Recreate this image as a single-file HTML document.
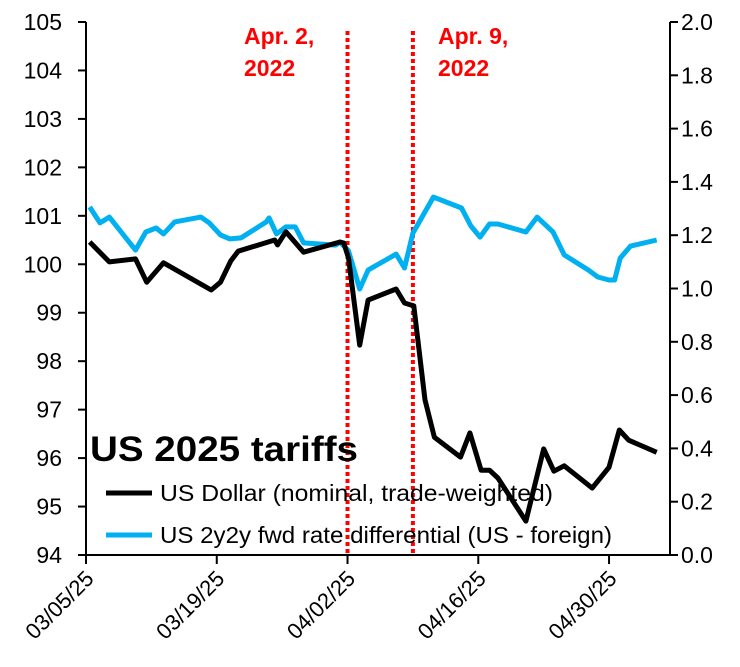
<!DOCTYPE html>
<html><head><meta charset="utf-8"><style>
body{margin:0;background:#fff}
svg{display:block;font-family:"Liberation Sans",Arial,sans-serif}
</style></head><body>
<svg id="chart" width="740" height="667" viewBox="0 0 740 667" xmlns="http://www.w3.org/2000/svg">
</svg>
<script>
const dateLabels=["03/05/25","03/19/25","04/02/25","04/16/25","04/30/25"];
const dateTickDays=[0,14,28,42,56];
const leftTicks=[94,95,96,97,98,99,100,101,102,103,104,105];
const rightTicks=[0.0,0.2,0.4,0.6,0.8,1.0,1.2,1.4,1.6,1.8,2.0];
const eventDays=[28,35];
const usdDays=[0.4,2.5,5.3,6.5,8.3,13.4,14.4,15.5,16.3,20.2,20.5,21.4,23.3,27.2,27.6,28.1,29.3,30.2,33.2,34.1,35.1,36.3,37.3,40.1,41.1,42.3,43.2,44.1,47.1,49.0,50.1,51.2,54.2,56.0,57.1,58.1,61.1];
const usdVals=[100.46,100.05,100.11,99.63,100.03,99.47,99.63,100.07,100.27,100.50,100.40,100.67,100.25,100.46,100.44,100.13,98.33,99.26,99.49,99.20,99.14,97.20,96.43,96.02,96.52,95.75,95.75,95.59,94.70,96.19,95.73,95.84,95.38,95.81,96.58,96.37,96.12];
const diffDays=[0.4,1.5,2.5,5.3,6.4,7.5,8.3,9.5,12.3,13.2,14.4,15.4,16.6,19.3,19.6,20.4,21.4,22.4,23.3,26.7,27.2,28.1,29.3,30.2,33.2,34.1,35.0,37.2,40.2,41.2,42.2,43.2,44.1,47.1,48.3,50.0,51.2,53.8,54.8,56.0,56.6,57.2,58.3,61.1];
const diffVals=[1.306,1.246,1.268,1.144,1.212,1.227,1.205,1.250,1.268,1.246,1.201,1.186,1.190,1.250,1.265,1.205,1.231,1.231,1.171,1.163,1.174,1.141,0.998,1.069,1.129,1.077,1.208,1.343,1.302,1.235,1.193,1.242,1.242,1.212,1.268,1.212,1.126,1.069,1.043,1.032,1.032,1.114,1.159,1.182];

const X0=86,X1=670,Y0=555,Y1=22;
const xS=d=>X0+d*9.34;
const yL=v=>Y0-(v-94)/11*(Y0-Y1);
const yR=v=>Y0-v/2*(Y0-Y1);
const svg=document.getElementById('chart');
const NS='http://www.w3.org/2000/svg';
function mk(tag,attrs,parent){const e=document.createElementNS(NS,tag);for(const k in attrs)e.setAttribute(k,attrs[k]);(parent||svg).appendChild(e);return e;}

let a=mk('line',{x1:X0,y1:Y1,x2:X0,y2:Y0+1,stroke:'#000','stroke-width':2});


a=mk('line',{x1:X1,y1:Y1,x2:X1,y2:Y0+1,stroke:'#000','stroke-width':2});


a=mk('line',{x1:X0-8,y1:Y0,x2:X1,y2:Y0,stroke:'#000','stroke-width':2});



leftTicks.forEach(v=>{
  const y=yL(v);
  mk('line',{x1:X0-8,y1:y,x2:X0,y2:y,stroke:'#000','stroke-width':2});
  const t=mk('text',{x:62,y:y+8,'text-anchor':'end','font-size':23,fill:'#000'});
  t.textContent=v;
  
  
});
rightTicks.forEach(v=>{
  const y=yR(v);
  mk('line',{x1:X1,y1:y,x2:X1+8,y2:y,stroke:'#000','stroke-width':2});
  const t=mk('text',{x:681,y:y+8,'font-size':23,fill:'#000'});
  t.textContent=v.toFixed(1);
  
  
});
dateTickDays.forEach((d,i)=>{
  const x=xS(d);
  mk('line',{x1:x,y1:Y0,x2:x,y2:Y0+9,stroke:'#000','stroke-width':2});
  const t=mk('text',{x:x+9,y:580,'text-anchor':'end','font-size':22,fill:'#000',transform:`rotate(-45 ${x+9} 580)`});
  t.textContent=dateLabels[i];
  
  
});

eventDays.forEach(d=>{
  const l=mk('line',{x1:xS(d),y1:31,x2:xS(d),y2:Y0,stroke:'#f00','stroke-width':4,'stroke-dasharray':'4 3'});
  
  
});

function series(days,vals,ys,color,name){
  const pts=days.map((d,i)=>xS(d).toFixed(1)+','+ys(vals[i]).toFixed(1)).join(' ');
  const p=mk('polyline',{points:pts,fill:'none',stroke:color,'stroke-width':5,'stroke-linejoin':'round','stroke-linecap':'butt'});
  
  
}
series(diffDays,diffVals,yR,'#00b0f0','rate-differential-line');
series(usdDays,usdVals,yL,'#000','us-dollar-line');

function txt(x,y,s,attrs,name){const t=mk('text',Object.assign({x:x,y:y},attrs));t.textContent=s;
  
  
  return t;}
const red={'font-size':23,'font-weight':'bold',fill:'#f00'};
txt(244,44,'Apr. 2,',red,'annotation-apr2');
txt(244,76,'2022',red,'annotation-apr2-year');
txt(438,44,'Apr. 9,',red,'annotation-apr9');
txt(438,76,'2022',red,'annotation-apr9-year');
txt(90,461,'US 2025 tariffs',{'font-size':35,'font-weight':'bold',fill:'#000',textLength:268,lengthAdjust:'spacingAndGlyphs'},'chart-title');
let l=mk('line',{x1:106,y1:493,x2:152,y2:493,stroke:'#000','stroke-width':5});


txt(160,501,'US Dollar (nominal, trade-weighted)',{'font-size':23,fill:'#000',textLength:393,lengthAdjust:'spacingAndGlyphs'},'legend-entry-usd');
l=mk('line',{x1:106,y1:535,x2:152,y2:535,stroke:'#00b0f0','stroke-width':5});


txt(160,543,'US 2y2y fwd rate differential (US - foreign)',{'font-size':23,fill:'#000',textLength:452,lengthAdjust:'spacingAndGlyphs'},'legend-entry-diff');
</script>
</body></html>
